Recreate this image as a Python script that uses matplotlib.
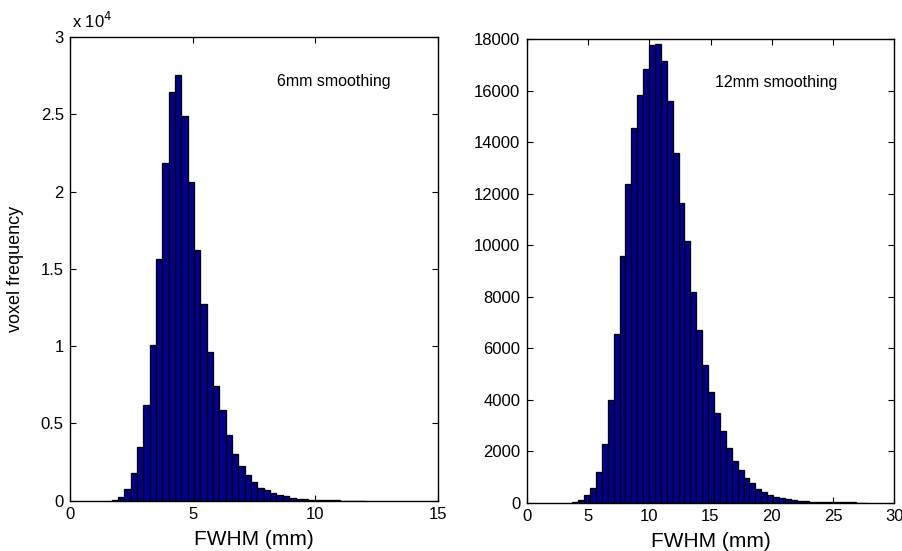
import matplotlib
matplotlib.use('Agg')
import matplotlib.pyplot as plt
from matplotlib.ticker import FuncFormatter

plt.rcParams['font.family'] = ['Liberation Sans', 'DejaVu Sans']

# 6mm smoothing histogram: first bin edge, bin width (mm) and voxel counts
fwhm6_start = 1.70
fwhm6_width = 0.2586
counts6 = [65, 260, 780, 1790, 3500, 6160, 10070, 15620, 21840, 26460,
           27520, 24880, 20630, 16200, 12720, 9630, 7410, 5850, 4255, 3045,
           2250, 1640, 1180, 850, 680, 510, 365, 275, 190, 130,
           90, 65, 45, 30, 22, 15, 10, 7, 5, 4]

# 12mm smoothing histogram
fwhm12_start = 3.72
fwhm12_width = 0.482
counts12 = [40, 100, 300, 580, 1190, 2290, 3990, 6550, 9580, 12390,
            14570, 15820, 16850, 17780, 17830, 17160, 15590, 13580, 11650, 10170,
            8170, 6710, 5360, 4300, 3500, 2770, 2140, 1630, 1270, 947,
            750, 540, 410, 315, 222, 172, 132, 104, 80, 60,
            46, 36, 28, 21, 16, 12, 10, 8, 6, 5]

xticks6 = [0, 5, 10, 15]
yticks6 = [0, 5000, 10000, 15000, 20000, 25000, 30000]
xticks12 = [0, 5, 10, 15, 20, 25, 30]
yticks12 = list(range(0, 18001, 2000))

bar_color = '#00008f'
W, H = 902, 551

fig = plt.figure(figsize=(W / 100, H / 100), dpi=100)
ax1 = fig.add_axes([70 / W, (H - 500.7) / H, 367.7 / W, 463.7 / H])
ax2 = fig.add_axes([526.7 / W, (H - 502.7) / H, 367.6 / W, 463.4 / H])


def draw_hist(ax, start, width, counts):
    edges = [start + i * width for i in range(len(counts))]
    ax.bar(edges, counts, width=width, align='edge', color=bar_color,
           edgecolor='black', linewidth=0.95)


def style(ax):
    for s in ax.spines.values():
        s.set_linewidth(1.0)
    ax.tick_params(direction='in', top=True, right=True, length=4.5,
                   width=0.8, labelsize=12, pad=4.5)


draw_hist(ax1, fwhm6_start, fwhm6_width, counts6)
ax1.set_xlim(0, 15)
ax1.set_ylim(0, 30000)
ax1.set_xticks(xticks6)
ax1.set_yticks(yticks6)
ax1.yaxis.set_major_formatter(FuncFormatter(lambda v, p: f'{v / 1e4:g}'))
ax1.text(0.005, 1.012, 'x 10$^{4}$', transform=ax1.transAxes, fontsize=12,
         ha='left', va='bottom')
ax1.text(8.45, 27150, '6mm smoothing', fontsize=11.5, va='center')
ax1.set_xlabel('FWHM (mm)', fontsize=15, labelpad=6)
ax1.set_ylabel('voxel frequency', fontsize=13, labelpad=12)
style(ax1)

draw_hist(ax2, fwhm12_start, fwhm12_width, counts12)
ax2.set_xlim(0, 30)
ax2.set_ylim(0, 18000)
ax2.set_xticks(xticks12)
ax2.set_yticks(yticks12)
ax2.text(15.37, 16310, '12mm smoothing', fontsize=11.5, va='center')
ax2.set_xlabel('FWHM (mm)', fontsize=15, labelpad=6)
style(ax2)

fig.savefig('out.png', dpi=100)
